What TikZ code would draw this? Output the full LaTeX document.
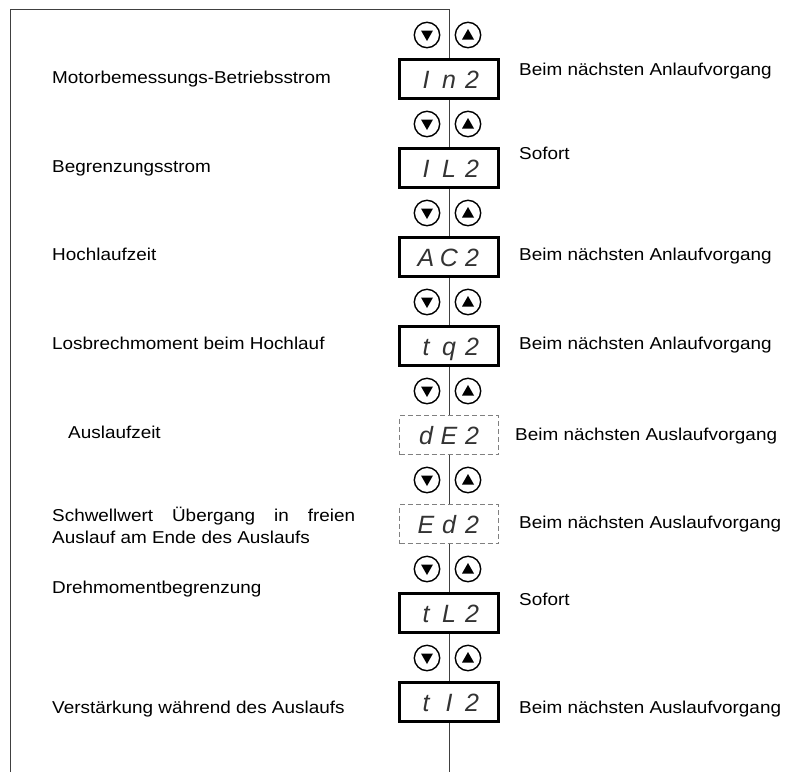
\documentclass[tikz,border=0pt]{standalone}
\usepackage{fontspec}
\setmainfont{Liberation Sans}[FakeStretch=1.1]
\newfontfamily\lcdfont{Liberation Sans}
\newcommand\lcd[3]{{\lcdfont\itshape\fontsize{25}{25}\selectfont
  \makebox[23pt]{#1}\makebox[23pt]{#2}\makebox[23pt]{#3}}}
\tikzset{
  disp/.style={draw,line width=2.6pt,minimum width=99pt,minimum height=39pt,
    inner sep=0pt,text height=18pt,text depth=0pt,fill=white,text=black!80},
  dispdash/.style={disp,draw=black!50,line width=0.9pt,dash pattern=on 5pt off 3pt},
  btn/.style={draw,circle,line width=1.4pt,minimum size=25.4pt,inner sep=0pt},
  lab/.style={inner sep=0pt,anchor=base west,font=\fontsize{17.2}{21.6}\selectfont},
  vline/.style={draw=black!75,line width=1pt}
}
\begin{document}
\begin{tikzpicture}[x=1pt,y=-1pt]
\useasboundingbox (0,0) rectangle (792,772);
% Anzeigen
\node[disp]     (b1) at (449,79)  {\lcd{I}{n}{2}};
\node[disp]     (b2) at (449,168) {\lcd{I}{L}{2}};
\node[disp]     (b3) at (449,257) {\lcd{A}{C}{2}};
\node[disp]     (b4) at (449,346) {\lcd{t}{q}{2}};
\node[dispdash] (b5) at (449,435) {\lcd{d}{E}{2}};
\node[dispdash] (b6) at (449,524) {\lcd{E}{d}{2}};
\node[disp]     (b7) at (449,613) {\lcd{t}{L}{2}};
\node[disp]     (b8) at (449,702) {\lcd{t}{I}{2}};
% Rahmen und Verbindungslinie
\coordinate (bot)  at (10,772);
\coordinate (ecke) at (10,9);
\coordinate (top)  at (449,9);
\coordinate (ende) at (449,772);
\draw[vline] (bot) -- (ecke) -- (top) -- (b1);
\foreach \i/\j in {1/2,2/3,3/4,4/5,5/6,6/7,7/8}{
  \draw[vline] (b\i) -- (b\j);
}
\draw[vline] (b8) -- (ende);
% Tasten
\foreach \n/\y in {1/35,2/124,3/213,4/302,5/391,6/480,7/569,8/658}{
  \node[btn] (ab\n) at (427,\y) {};
  \node[btn] (auf\n) at (468,\y) {};
  \fill (ab\n.center) ++(-6,-4.5) -- ++(12,0) -- ++(-6,10.5) -- cycle;
  \fill (auf\n.center) ++(-6,4.5) -- ++(12,0) -- ++(-6,-10.5) -- cycle;
}
% Bezeichnungen links
\node[lab] (l1) at (52,83)  {Motorbemessungs-Betriebsstrom};
\node[lab] (l2) at (52,172) {Begrenzungsstrom};
\node[lab] (l3) at (52,260) {Hochlaufzeit};
\node[lab] (l4) at (52,349) {Losbrechmoment beim Hochlauf};
\node[lab] (l5) at (68,438) {Auslaufzeit};
\node[lab,text width=303pt,align=justify] (l6) at (52,521.7)
  {Schwellwert Übergang in freien\linebreak Auslauf am Ende des Auslaufs};
\node[lab] (l7) at (52,593) {Drehmomentbegrenzung};
\node[lab] (l8) at (52,713) {Verstärkung während des Auslaufs};
% Wirksamkeit rechts
\node[lab] (r1) at (519,75)  {Beim nächsten Anlaufvorgang};
\node[lab] (r2) at (519,159) {Sofort};
\node[lab] (r3) at (519,260) {Beim nächsten Anlaufvorgang};
\node[lab] (r4) at (519,349) {Beim nächsten Anlaufvorgang};
\node[lab] (r5) at (515,440) {Beim nächsten Auslaufvorgang};
\node[lab] (r6) at (519,528) {Beim nächsten Auslaufvorgang};
\node[lab] (r7) at (519,605) {Sofort};
\node[lab] (r8) at (519,713) {Beim nächsten Auslaufvorgang};
\end{tikzpicture}
\end{document}
